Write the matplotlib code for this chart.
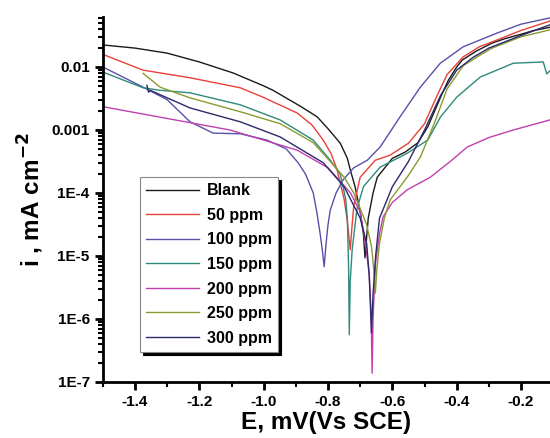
import matplotlib as mpl
mpl.use("Agg")
import matplotlib.pyplot as plt
import numpy as np
from matplotlib.ticker import LogLocator, FixedLocator, NullFormatter

mpl.rcParams["font.family"] = ["Liberation Sans", "DejaVu Sans"]
mpl.rcParams["font.weight"] = "bold"
mpl.rcParams["mathtext.default"] = "bf"

# potentials (V) and log10 of current density
blank_E = [-1.5, -1.4, -1.30, -1.2, -1.095, -1.0, -0.971, -0.887, -0.834, -0.8, -0.762, -0.74,
           -0.731, -0.716, -0.70, -0.69, -0.685, -0.68, -0.675, -0.66, -0.647, -0.60, -0.56,
           -0.52, -0.49, -0.467, -0.445, -0.426, -0.40, -0.383, -0.34, -0.29, -0.25, -0.2,
           -0.16, -0.11]
blank_logi = [-1.65, -1.70, -1.78, -1.92, -2.095, -2.30, -2.37, -2.62, -2.79, -2.98, -3.21, -3.45,
              -3.63, -3.9, -4.3, -4.65, -5.03, -4.7, -4.4, -4.0, -3.75, -3.45, -3.35,
              -3.2, -2.95, -2.68, -2.42, -2.21, -2.0, -1.89, -1.75, -1.62, -1.55, -1.48,
              -1.42, -1.37]

ppm50_E = [-1.5, -1.375, -1.23, -1.073, -1.002, -0.896, -0.85, -0.815, -0.79, -0.772, -0.75,
           -0.74, -0.731, -0.725, -0.72, -0.70, -0.653, -0.607, -0.55, -0.50, -0.467, -0.43,
           -0.38, -0.33, -0.274, -0.2, -0.11]
ppm50_logi = [-1.8, -2.05, -2.17, -2.33, -2.48, -2.73, -2.92, -3.16, -3.38, -3.63, -4.1,
              -4.45, -4.9, -4.5, -4.2, -3.75, -3.48, -3.40, -3.21, -2.9, -2.52, -2.12,
              -1.84, -1.68, -1.57, -1.42, -1.27]

ppm100_E = [-1.5, -1.375, -1.30, -1.229, -1.157, -1.073, -0.99, -0.93, -0.893, -0.87,
            -0.846, -0.835, -0.825, -0.818, -0.812, -0.806, -0.80, -0.793, -0.775, -0.753,
            -0.72, -0.678, -0.638, -0.576, -0.513, -0.451, -0.38, -0.274, -0.2, -0.11]
ppm100_logi = [-2.0, -2.32, -2.52, -2.87, -3.05, -3.06, -3.16, -3.3, -3.52, -3.7,
               -4.0, -4.3, -4.63, -4.9, -5.17, -4.8, -4.5, -4.27, -4.0, -3.79,
               -3.6, -3.48, -3.27, -2.79, -2.32, -1.94, -1.68, -1.46, -1.32, -1.22]

ppm150_E = [-1.5, -1.375, -1.322, -1.229, -1.073, -0.949, -0.846, -0.793, -0.762, -0.745,
            -0.74, -0.736, -0.734, -0.731, -0.725, -0.71, -0.69, -0.638, -0.554, -0.49, -0.45,
            -0.40, -0.327, -0.224, -0.131, -0.12, -0.11]
ppm150_logi = [-2.08, -2.33, -2.37, -2.41, -2.60, -2.84, -3.16, -3.48, -3.7, -4.1,
               -4.4, -5.2, -6.25, -5.4, -4.9, -4.25, -3.9, -3.59, -3.37, -3.16, -2.79,
               -2.48, -2.16, -1.94, -1.92, -2.11, -2.06]

ppm200_E = [-1.5, -1.105, -0.896, -0.80, -0.73, -0.70, -0.69, -0.68, -0.672, -0.666, -0.663,
            -0.66, -0.656, -0.652, -0.64, -0.629, -0.60, -0.554, -0.482, -0.42, -0.367,
            -0.30, -0.224, -0.11]
ppm200_logi = [-2.63, -3.0, -3.32, -3.6, -4.0, -4.3, -4.6, -4.95, -5.3, -5.9, -6.86,
               -6.0, -5.5, -5.1, -4.65, -4.38, -4.15, -3.95, -3.75, -3.5, -3.27,
               -3.12, -3.0, -2.84]

ppm250_E = [-1.375, -1.322, -1.229, -1.073, -0.949, -0.846, -0.793, -0.75, -0.72, -0.68,
            -0.665, -0.658, -0.653, -0.648, -0.64, -0.625, -0.607, -0.554, -0.513, -0.47,
            -0.43, -0.38, -0.33, -0.29, -0.2, -0.11]
ppm250_logi = [-2.10, -2.32, -2.49, -2.71, -2.9, -3.2, -3.5, -3.75, -4.0, -4.5,
               -4.85, -5.2, -5.59, -5.2, -4.8, -4.4, -4.11, -3.75, -3.43, -2.9,
               -2.35, -1.98, -1.82, -1.7, -1.52, -1.41]

ppm300_E = [-1.363, -1.358, -1.353, -1.229, -1.073, -0.949, -0.815, -0.75, -0.70, -0.68,
            -0.672, -0.665, -0.66, -0.652, -0.64, -0.60, -0.55, -0.50, -0.45, -0.40, -0.35,
            -0.30, -0.2, -0.11]
ppm300_logi = [-2.29, -2.40, -2.37, -2.65, -2.87, -3.11, -3.52, -3.9, -4.4, -4.8,
               -5.3, -6.22, -5.6, -5.0, -4.4, -3.9, -3.5, -3.0, -2.45, -2.05, -1.85,
               -1.7, -1.5, -1.33]

labels = ["Blank", "50 ppm", "100 ppm", "150 ppm", "200 ppm", "250 ppm", "300 ppm"]
colors = ["#1a1a1a", "#e8413a", "#5a50a8", "#2e8a7a", "#c040b0", "#8a9a30", "#2a2a6a"]
series = [(blank_E, blank_logi), (ppm50_E, ppm50_logi), (ppm100_E, ppm100_logi),
          (ppm150_E, ppm150_logi), (ppm200_E, ppm200_logi), (ppm250_E, ppm250_logi),
          (ppm300_E, ppm300_logi)]

fig = plt.figure(figsize=(5.5, 4.38), dpi=100, facecolor='w')
ax = fig.add_axes([0.187, 0.128, 0.813, 0.833])

for (E, li), lab, c in zip(series, labels, colors):
    ax.plot(E, 10 ** np.array(li), color=c, linewidth=1.0, label=lab)

ax.set_yscale('log')
ax.set_xlim(-1.5, -0.11)
ax.set_ylim(1e-7, 0.062)

ax.yaxis.set_major_locator(FixedLocator([1e-7, 1e-6, 1e-5, 1e-4, 1e-3, 1e-2]))
ax.set_yticklabels(["1E-7", "1E-6", "1E-5", "1E-4", "0.001", "0.01"])
ax.yaxis.set_minor_locator(LogLocator(base=10, subs=np.arange(2, 10), numticks=20))
ax.yaxis.set_minor_formatter(NullFormatter())
ax.set_xticks([-1.4, -1.2, -1.0, -0.8, -0.6, -0.4, -0.2])
ax.set_xticklabels(["-1.4", "-1.2", "-1.0", "-0.8", "-0.6", "-0.4", "-0.2"])
ax.set_xticks([-1.5, -1.3, -1.1, -0.9, -0.7, -0.5, -0.3], minor=True)

ax.spines['top'].set_visible(False)
ax.spines['right'].set_visible(False)
ax.spines['left'].set_linewidth(2)
ax.spines['bottom'].set_linewidth(2)
ax.tick_params(which='major', direction='out', length=6, width=2, labelsize=11)
ax.tick_params(which='minor', direction='out', length=3.5, width=1.5)

ax.set_xlabel("E, mV(Vs SCE)", fontsize=17.5, fontweight='bold', labelpad=1)
ax.set_ylabel("i , mA cm$^{-2}$", fontsize=17.5, fontweight='bold', labelpad=4)

leg = ax.legend(loc='lower left', bbox_to_anchor=(0.065, 0.06), fontsize=11.5,
                frameon=True, fancybox=False, shadow={'color': 'black', 'alpha': 1},
                edgecolor='#888888', handlelength=3.3, labelspacing=0.6,
                borderpad=0.4, handletextpad=0.5)
leg.get_frame().set_linewidth(0.8)

plt.savefig("out.png", dpi=100)
